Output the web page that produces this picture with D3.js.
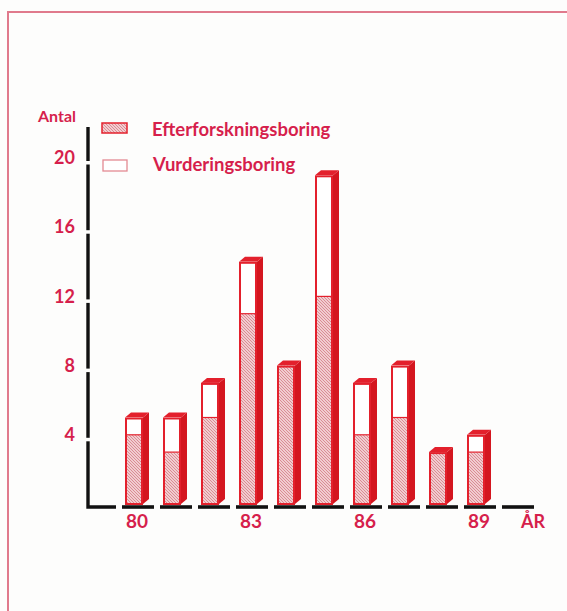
<!DOCTYPE html>
<html>
<head>
<meta charset="utf-8">
<script src="https://cdn.jsdelivr.net/npm/d3@7"></script>
<style>
  html, body { margin: 0; padding: 0; background: #fdfdfc; }
  svg { display: block; }
  text { font-family: "Lato", "Open Sans", sans-serif; font-weight: 700; fill: #d61f4c; }
</style>
</head>
<body>
<svg id="chart" width="567" height="611"></svg>
<script>
// Borings per year, split into the two kinds
const years = ["80", "81", "82", "83", "84", "85", "86", "87", "88", "89"];
const efterforskning = [4, 3, 5, 11, 8, 12, 4, 5, 3, 3];
const vurdering = [1, 2, 2, 3, 0, 7, 3, 3, 0, 1];
const yTicks = [4, 8, 12, 16, 20];
const xLabels = ["80", "83", "86", "89"];
const seriesNames = ["Efterforskningsboring", "Vurderingsboring"];
const slots = ["80", "81", "82", "83", "84", "85", "86", "87", "88", "89", "90"];

const RED = "#e3202c";
const RED_SIDE = "#d4161f";
const INK = "#111";

const svg = d3.select("#chart");

// hatch for the exploration part
const defs = svg.append("defs");
const pat = defs.append("pattern")
  .attr("id", "hatch").attr("patternUnits", "userSpaceOnUse")
  .attr("width", 3).attr("height", 3);
pat.append("rect").attr("width", 3).attr("height", 3).attr("fill", "#f1cdd0");
pat.append("path").attr("d", "M0,0 L3,3 M-1,2 L1,4 M2,-1 L4,1")
  .attr("stroke", "#d47b85").attr("stroke-width", 0.8);

// frame
svg.append("path")
  .attr("d", "M8,611 L8,12 L567,12")
  .attr("fill", "none").attr("stroke", "#e07a8c").attr("stroke-width", 2);

const x = d3.scaleBand().domain(slots).range([119, 537]).padding(0);
const y = d3.scaleLinear().domain([0, 20]).range([504, 158]);

const axisY = 507;
const step = x.step();

// y axis: heavy line with small breaks under each tick value
const gy = svg.append("g").attr("transform", "translate(88,0)")
  .call(d3.axisLeft(y).tickValues(yTicks).tickSize(0).tickPadding(13));
gy.select(".domain").remove();
gy.selectAll(".tick text")
  .style("font-size", "18px").attr("fill", "#d61f4c");

svg.append("path")
  .attr("d", `M88,127 L88,${axisY} L116,${axisY}`)
  .attr("fill", "none").attr("stroke", INK).attr("stroke-width", 3.4);
svg.selectAll("rect.gap").data(yTicks).join("rect")
  .attr("class", "gap")
  .attr("x", 85).attr("width", 6)
  .attr("y", d => y(d) + 3).attr("height", 3.5)
  .attr("fill", "#fdfdfc");

// x axis: one dash per year slot
svg.selectAll("line.xseg").data(slots).join("line")
  .attr("class", "xseg")
  .attr("x1", d => x(d) + 3).attr("x2", d => x(d) + step - 3)
  .attr("y1", axisY).attr("y2", axisY)
  .attr("stroke", INK).attr("stroke-width", 3.6);

svg.selectAll("text.xlab").data(xLabels).join("text")
  .attr("class", "xlab")
  .attr("x", d => x(d) + step / 2 - 1).attr("y", 528)
  .attr("text-anchor", "middle").style("font-size", "19px")
  .text(d => d);
svg.append("text")
  .attr("x", x("90") + step / 2 + 15).attr("y", 528)
  .attr("text-anchor", "middle").style("font-size", "18px")
  .text("ÅR");

svg.append("text")
  .attr("x", 76).attr("y", 122).attr("text-anchor", "end")
  .style("font-size", "16px").text("Antal");

// 3D bars
const faceW = 18, dx = 6, dy = 5;
const data = years.map((yr, i) => ({
  yr, e: efterforskning[i], v: vurdering[i], t: efterforskning[i] + vurdering[i]
}));

const bars = svg.selectAll("g.bar").data(data).join("g").attr("class", "bar");
const fx0 = d => x(d.yr) + step / 2 - 13;
const fx1 = d => fx0(d) + faceW;

bars.append("polygon")
  .attr("points", d => [
    [fx1(d), y(d.t)], [fx1(d) + dx, y(d.t) - dy],
    [fx1(d) + dx, y(0) - dy], [fx1(d), y(0)]].join(" "))
  .attr("fill", RED_SIDE);
bars.append("polygon")
  .attr("points", d => [
    [fx0(d), y(d.t)], [fx0(d) + dx, y(d.t) - dy],
    [fx1(d) + dx, y(d.t) - dy], [fx1(d), y(d.t)]].join(" "))
  .attr("fill", RED);
bars.append("rect")
  .attr("x", fx0).attr("width", faceW)
  .attr("y", d => y(d.e)).attr("height", d => y(0) - y(d.e))
  .attr("fill", "url(#hatch)");
bars.filter(d => d.v > 0).append("rect")
  .attr("x", fx0).attr("width", faceW)
  .attr("y", d => y(d.t)).attr("height", d => y(d.e) - y(d.t))
  .attr("fill", "#fff");
bars.filter(d => d.v > 0).append("line")
  .attr("x1", fx0).attr("x2", fx1)
  .attr("y1", d => y(d.e)).attr("y2", d => y(d.e))
  .attr("stroke", RED).attr("stroke-width", 1.2);
bars.append("rect")
  .attr("x", d => fx0(d) + 1).attr("width", faceW - 2)
  .attr("y", d => y(d.t) + 1).attr("height", d => y(0) - y(d.t) - 1)
  .attr("fill", "none").attr("stroke", RED).attr("stroke-width", 2);

// legend
const legend = svg.append("g");
legend.append("rect").attr("x", 102).attr("y", 123).attr("width", 25).attr("height", 10)
  .attr("fill", "url(#hatch)").attr("stroke", RED).attr("stroke-width", 1.5);
legend.append("rect").attr("x", 103).attr("y", 160).attr("width", 24).attr("height", 11)
  .attr("fill", "#fff").attr("stroke", "#e48a93").attr("stroke-width", 1.3);
legend.append("text").attr("x", 152).attr("y", 136)
  .style("font-size", "18.5px").text(seriesNames[0]);
legend.append("text").attr("x", 153).attr("y", 171)
  .style("font-size", "18.5px").text(seriesNames[1]);
</script>
</body>
</html>
